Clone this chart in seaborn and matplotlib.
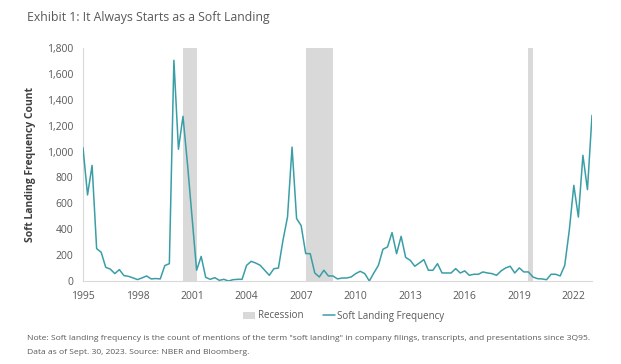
import numpy as np
import pandas as pd
import matplotlib
matplotlib.use("Agg")
import matplotlib.pyplot as plt
import seaborn as sns
from matplotlib.patches import Patch
from matplotlib.lines import Line2D

# ---- data ----
first_quarter = (1995, 3)  # 3Q95
freq = [1030, 665, 893, 250, 222, 106, 92, 57, 88, 42,
        36, 24, 11, 24, 39, 16, 19, 16, 119, 134,
        1705, 1018, 1272, 900, 490, 83, 190, 28, 13, 26,
        5, 13, 0, 10, 13, 13, 121, 152, 139, 121,
        82, 44, 95, 100, 314, 494, 1034, 482, 428, 212,
        211, 62, 31, 83, 39, 39, 16, 23, 23, 31,
        57, 75, 57, 0, 62, 121, 245, 263, 374, 211,
        345, 182, 160, 114, 139, 165, 83, 83, 134, 62,
        62, 62, 96, 62, 78, 44, 52, 52, 70, 62,
        57, 44, 78, 101, 114, 62, 101, 70, 70, 31,
        18, 16, 10, 52, 52, 39, 121, 391, 739, 494,
        971, 706, 1280]
recessions = [("1Q01", "4Q01"), ("4Q07", "2Q09"), ("1Q20", "2Q20")]
tick_years = [1995, 1998, 2001, 2004, 2007, 2010, 2013, 2016, 2019, 2022]
y_ticks = [0, 200, 400, 600, 800, 1000, 1200, 1400, 1600, 1800]

# quarter labels
quarters = []
y0, q0 = first_quarter
for k in range(len(freq)):
    q = (q0 - 1 + k) % 4 + 1
    yr = y0 + (q0 - 1 + k) // 4
    quarters.append(f"{q}Q{str(yr)[2:]}")
df = pd.DataFrame({"idx": np.arange(len(freq)), "quarter": quarters, "freq": freq})
qpos = {q: i for i, q in enumerate(quarters)}

# ---- style ----
sns.set_style("white")
plt.rcParams["font.family"] = ["Open Sans", "DejaVu Sans"]

line_color = "#3a9ea6"
rec_color = "#d9d9d9"
txt_color = "#595959"
axis_color = "#d9d9d9"

fig = plt.figure(figsize=(6.21, 3.64), dpi=100)
ax = fig.add_axes([83 / 621, 83 / 364, (592 - 83) / 621, (281 - 48) / 364])

for s, e in recessions:
    ax.axvspan(qpos[s], qpos[e], color=rec_color, lw=0, zorder=0)

sns.lineplot(data=df, x="idx", y="freq", ax=ax, color=line_color, lw=1.1, zorder=3)

ax.set_xlim(0, len(freq) - 1)
ax.set_ylim(0, 1800)
ax.set_yticks(y_ticks)
ax.set_yticklabels([f"{v:,}" for v in y_ticks])
tick_pos = [qpos[f"3Q{str(y)[2:]}"] for y in tick_years]
ax.set_xticks(tick_pos)
ax.set_xticklabels([str(y) for y in tick_years])

for sp in ["top", "right"]:
    ax.spines[sp].set_visible(False)
for sp in ["left", "bottom"]:
    ax.spines[sp].set_color(axis_color)
    ax.spines[sp].set_linewidth(0.8)
ax.tick_params(axis="both", colors=axis_color, length=4, width=0.8,
               labelcolor=txt_color, labelsize=7.5, pad=3)
ax.set_xlabel("")
ax.set_ylabel("Soft Landing Frequency Count", fontsize=7.5, fontweight="bold",
              color="#404040", labelpad=8)

handles = [Patch(facecolor=rec_color, edgecolor="none", label="Recession"),
           Line2D([0], [0], color=line_color, lw=1.1, label="Soft Landing Frequency")]
fig.legend(handles=handles, loc="center", bbox_to_anchor=(344 / 621, 1 - 316 / 364),
           ncol=2, frameon=False, fontsize=7, labelcolor=txt_color,
           handlelength=1.2, handletextpad=0.3, columnspacing=2.0)

fig.text(27 / 621, 1 - 17 / 364, "Exhibit 1: It Always Starts as a Soft Landing",
         fontsize=8.8, color=txt_color, va="center", ha="left")
fig.text(27 / 621, 1 - 339 / 364,
         'Note: Soft landing frequency is the count of mentions of the term "soft landing" in company filings, transcripts, and presentations since 3Q95.',
         fontsize=6.1, color=txt_color, va="center", ha="left")
fig.text(27 / 621, 1 - 353 / 364, "Data as of Sept. 30, 2023. Source: NBER and Bloomberg.",
         fontsize=6.1, color=txt_color, va="center", ha="left")

fig.savefig("out.png", dpi=100)
